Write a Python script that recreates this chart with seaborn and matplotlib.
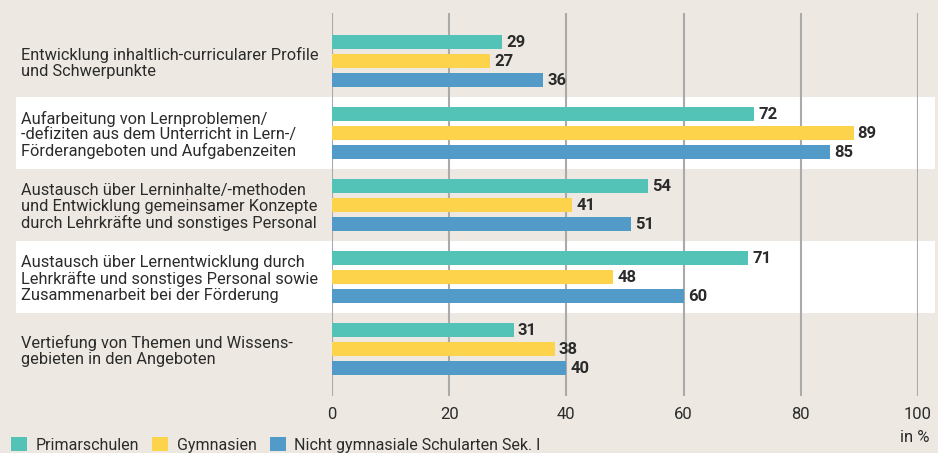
import matplotlib
matplotlib.use("Agg")
import matplotlib.pyplot as plt
import matplotlib.transforms as mtransforms
from matplotlib.patches import Rectangle
import pandas as pd
import seaborn as sns

# data
categories = [
    "Entwicklung inhaltlich-curricularer Profile\nund Schwerpunkte",
    "Aufarbeitung von Lernproblemen/\n-defiziten aus dem Unterricht in Lern-/\nFörderangeboten und Aufgabenzeiten",
    "Austausch über Lerninhalte/-methoden\nund Entwicklung gemeinsamer Konzepte\ndurch Lehrkräfte und sonstiges Personal",
    "Austausch über Lernentwicklung durch\nLehrkräfte und sonstiges Personal sowie\nZusammenarbeit bei der Förderung",
    "Vertiefung von Themen und Wissens-\ngebieten in den Angeboten",
]
school_types = ["Primarschulen", "Gymnasien", "Nicht gymnasiale Schularten Sek. I"]
primarschulen = [29, 72, 54, 71, 31]
gymnasien = [27, 89, 41, 48, 38]
nicht_gymnasial = [36, 85, 51, 60, 40]
x_ticks = [0, 20, 40, 60, 80, 100]

bg = "#ede9e2"
colors = ["#52c3b6", "#fdd34c", "#529bc9"]
text_color = "#2b2b2b"

df = pd.DataFrame({
    "Kategorie": categories * 3,
    "Schulart": [s for s in school_types for _ in categories],
    "Wert": primarschulen + gymnasien + nicht_gymnasial,
})

sns.set_theme(style="white")
plt.rcParams["font.family"] = ["Roboto", "DejaVu Sans"]
plt.rcParams["text.color"] = text_color

fig = plt.figure(figsize=(9.38, 4.53), dpi=100, facecolor=bg)
ax = fig.add_axes([332 / 938, 1 - 396 / 453, (918 - 332) / 938, (396 - 13) / 453])
ax.set_facecolor("none")

sns.barplot(data=df, x="Wert", y="Kategorie", hue="Schulart", orient="h",
            palette=colors, order=categories, hue_order=school_types,
            width=0.79, gap=0.26, saturation=1, linewidth=0, ax=ax, legend=True)

for cont in ax.containers:
    ax.bar_label(cont, padding=3, fontsize=12, fontweight="bold", color=text_color)

# white bands behind 2nd and 4th category
trans = mtransforms.blended_transform_factory(fig.transFigure, ax.transData)
for i in [1, 3]:
    ax.add_patch(Rectangle((16 / 938, i - 0.5), (935 - 16) / 938, 1.0,
                           transform=trans, facecolor="white", edgecolor="none",
                           clip_on=False, zorder=0.1))

ax.set_xlim(0, 100)
ax.set_ylim(4.65, -0.667)
ax.set_xticks(x_ticks)
ax.set_xlabel("")
ax.set_ylabel("")
ax.set_axisbelow(True)
ax.grid(axis="x", color="#aaaaaa", linewidth=1.5)
ax.grid(axis="y", visible=False)
for s in ax.spines.values():
    s.set_visible(False)

ax.tick_params(axis="x", length=0, pad=8, labelsize=12, labelcolor=text_color)
ax.tick_params(axis="y", length=0, pad=224, labelsize=11.8, labelcolor=text_color)
for lab in ax.get_yticklabels():
    lab.set_horizontalalignment("left")
    lab.set_linespacing(1.05)

handles, labels = ax.get_legend_handles_labels()
ax.get_legend().remove()
fig.legend(handles, labels, loc="center left", bbox_to_anchor=(0.012, 1 - 445 / 453),
           ncol=3, frameon=False, fontsize=11.5, handlelength=1.0, handleheight=1.0,
           handletextpad=0.55, columnspacing=0.8, borderpad=0, borderaxespad=0)

fig.text(929 / 938, 1 - 437 / 453, "in %", ha="right", va="center", fontsize=12,
         color=text_color)

fig.savefig("out.png", dpi=100, facecolor=bg)
